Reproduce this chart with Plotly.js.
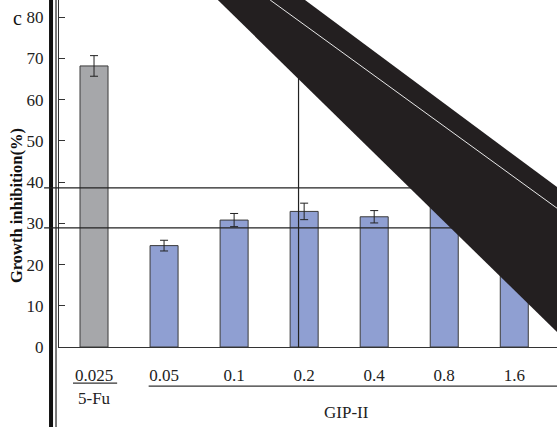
<!DOCTYPE html>
<html>
<head>
<meta charset="utf-8">
<script src="https://cdn.plot.ly/plotly-3.0.1.min.js"></script>
<style>html,body{margin:0;padding:0;background:#fff;}#chart{width:557px;height:427px;}</style>
</head>
<body>
<div id="chart"></div>
<script>
// Data
const categories = ["0.025", "0.05", "0.1", "0.2", "0.4", "0.8", "1.6"];
const groups = ["5-Fu", "GIP-II", "GIP-II", "GIP-II", "GIP-II", "GIP-II", "GIP-II"];
const inhibition = [68.2, 24.6, 30.8, 32.9, 31.6, 35.8, 29.5];
const errors = [2.5, 1.3, 1.6, 2.0, 1.5, 1.8, 1.5];
const yTicks = [0, 10, 20, 30, 40, 50, 60, 70, 80];

const idx = categories.map((c, i) => i);
const colors = groups.map(g => g === "5-Fu" ? "#a6a7aa" : "#8f9fd2");

const serif = "'Liberation Serif', 'DejaVu Serif', serif";

const trace = {
  type: "bar",
  x: idx,
  y: inhibition,
  width: 0.4,
  marker: { color: colors, line: { color: "#3a3a3a", width: 1 } },
  error_y: { type: "data", array: errors, visible: true, color: "#222", thickness: 1, width: 4 },
  hoverinfo: "skip"
};

const fuIdx = groups.map((g, i) => g === "5-Fu" ? i : -1).filter(i => i >= 0);
const gipIdx = groups.map((g, i) => g === "GIP-II" ? i : -1).filter(i => i >= 0);

const shapes = [
  // group underlines
  { type: "line", xref: "x", yref: "paper", x0: fuIdx[0] - 0.3, x1: fuIdx[fuIdx.length - 1] + 0.33, y0: -0.104, y1: -0.104, line: { color: "#333", width: 1.2 } },
  { type: "line", xref: "x", yref: "paper", x0: gipIdx[0] - 0.22, x1: 6.61, y0: -0.113, y1: -0.113, line: { color: "#333", width: 1.2 } },
  // scan artifacts
  { type: "line", xref: "paper", yref: "paper", x0: -0.016, x1: -0.016, y0: -0.3, y1: 1, line: { color: "#111", width: 4 } },
  { type: "line", xref: "paper", yref: "paper", x0: -0.006, x1: -0.006, y0: -0.3, y1: 1, line: { color: "#222", width: 1.2 } },
  { type: "line", xref: "paper", yref: "y", x0: -0.03, x1: 0.72, y0: 38.6, y1: 38.6, line: { color: "#222", width: 1.2 } },
  { type: "line", xref: "paper", yref: "y", x0: -0.03, x1: 0.9, y0: 28.9, y1: 28.9, line: { color: "#222", width: 1.2 } },
  { type: "line", xref: "x", yref: "y", x0: 2.92, x1: 2.92, y0: 65.3, y1: -19.5, line: { color: "#222", width: 1.2 } },
  { type: "path", xref: "paper", yref: "paper", path: "M 0.319 1 L 0.494 1 L 1.0 0.461 L 1.0 0.043 Z", fillcolor: "#231f20", line: { width: 0 } },
  { type: "path", xref: "paper", yref: "paper", path: "M 0.424 1 L 1.0 0.40", line: { color: "#e8e8e8", width: 1 } }
];

const annotations = [
  { text: "c", xref: "paper", yref: "paper", x: -0.083, y: 0.948, xanchor: "center", yanchor: "middle", showarrow: false, font: { family: serif, size: 20, color: "#111" } },
  { text: "Growth inhibition(%)", xref: "paper", yref: "paper", x: -0.085, y: 0.408, textangle: -90, xanchor: "center", yanchor: "middle", showarrow: false, font: { family: serif, size: 16.5, color: "#111", weight: "bold" } },
  { text: "5-Fu", xref: "x", yref: "paper", x: fuIdx[0], y: -0.148, xanchor: "center", yanchor: "middle", showarrow: false, font: { family: serif, size: 17, color: "#222" } },
  { text: "GIP-II", xref: "x", yref: "paper", x: 3.6, y: -0.188, xanchor: "center", yanchor: "middle", showarrow: false, font: { family: serif, size: 17, color: "#222" } }
];

const layout = {
  width: 557, height: 427,
  margin: { l: 59, r: 0, t: 0, b: 80, pad: 0 },
  paper_bgcolor: "#fff", plot_bgcolor: "#fff",
  showlegend: false,
  xaxis: {
    range: [-0.5, 6.61],
    tickvals: idx, ticktext: categories,
    ticks: "", showline: true, linecolor: "#333", linewidth: 1.2,
    showgrid: false, zeroline: false,
    ticklabelstandoff: 12,
    tickfont: { family: serif, size: 17, color: "#222" },
    fixedrange: true
  },
  yaxis: {
    range: [0, 84.2],
    tickvals: yTicks,
    ticks: "inside", ticklen: 6, tickcolor: "#333",
    showline: true, linecolor: "#333", linewidth: 1.2,
    showgrid: false, zeroline: false,
    ticklabelstandoff: 11,
    tickfont: { family: serif, size: 17, color: "#222" },
    fixedrange: true
  },
  shapes: shapes,
  annotations: annotations
};

Plotly.newPlot("chart", [trace], layout, { staticPlot: true, displayModeBar: false });
</script>
</body>
</html>
